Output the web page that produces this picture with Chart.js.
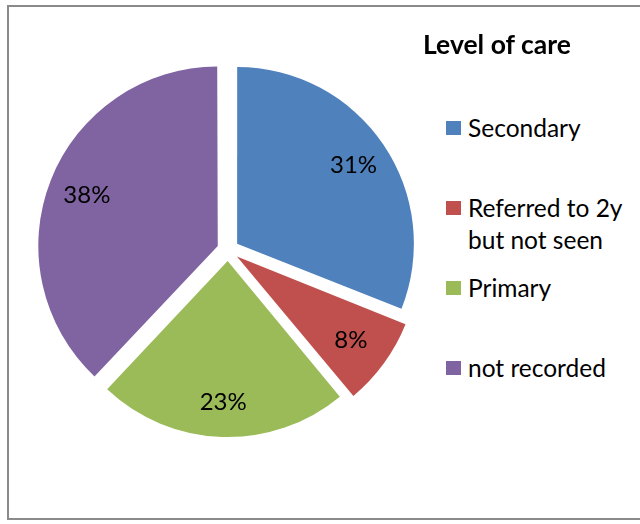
<!DOCTYPE html>
<html>
<head>
<meta charset="utf-8">
<script src="https://cdn.jsdelivr.net/npm/chart.js@4/dist/chart.umd.min.js"></script>
<style>
  html, body { margin: 0; padding: 0; background: #fff; overflow: hidden; }
  body { width: 640px; height: 524px; position: relative; font-family: Lato, "Noto Sans", sans-serif; }
  #frame { position: absolute; left: 7px; top: 5px; width: 660px; height: 515px; border: 2px solid #8a8a8a; box-sizing: border-box; }
  #pieBox { position: absolute; left: 28px; top: 50px; width: 400px; height: 400px; }
  #legendTitle { position: absolute; left: 423px; top: 28px; font-weight: bold; font-size: 26.5px; color: #000; white-space: nowrap; }
  #legend { position: absolute; left: 446px; top: 0; }
  .item { position: absolute; left: 0; white-space: nowrap; font-size: 24.5px; line-height: 32px; color: #000; }
  .item .box { position: absolute; left: 0; top: 9px; width: 15px; height: 14px; }
  .item .txt { position: absolute; left: 22px; top: 0; }
</style>
</head>
<body>
<div id="frame"></div>
<div id="pieBox"><canvas id="levelChart" width="400" height="400"></canvas></div>
<div id="legendTitle">Level of care</div>
<div id="legend"></div>
<script>
var categories = ['Secondary', ['Referred to 2y', 'but not seen'], 'Primary', 'not recorded'];
var values = [31, 8, 23, 38];
var colors = ['#4F81BD', '#C0504D', '#9BBB59', '#8064A2'];
var legendTops = [112, 192, 272, 352];

// percentage labels placed inside each slice
var sliceLabels = {
    id: 'sliceLabels',
    afterDatasetsDraw: function(chart) {
        var ctx = chart.ctx;
        var meta = chart.getDatasetMeta(0);
        var total = values.reduce(function(a, b) { return a + b; }, 0);
        ctx.save();
        ctx.font = '24px Lato, "Noto Sans", sans-serif';
        ctx.fillStyle = '#000';
        ctx.textAlign = 'center';
        ctx.textBaseline = 'alphabetic';
        meta.data.forEach(function(arc, i) {
            var p = arc.getProps(['x', 'y', 'startAngle', 'endAngle', 'outerRadius'], true);
            var mid = (p.startAngle + p.endAngle) / 2;
            var shift = (arc.options.offset || 0) / 4;
            var d = shift + p.outerRadius * 0.8;
            var x = p.x + Math.cos(mid) * d;
            var y = p.y + Math.sin(mid) * d;
            var txt = Math.round(values[i] / total * 100) + '%';
            ctx.fillText(txt, x, y + 8.5);
        });
        ctx.restore();
    }
};

var ctx = document.getElementById('levelChart').getContext('2d');
var levelChart = new Chart(ctx, {
    type: 'pie',
    data: {
        labels: categories,
        datasets: [{
            data: values,
            backgroundColor: colors,
            borderWidth: 0,
            offset: 44,
            hoverOffset: 0
        }]
    },
    options: {
        responsive: false,
        animation: false,
        events: [],
        radius: 176,
        layout: { padding: 0 },
        plugins: {
            legend: { display: false },
            tooltip: { enabled: false }
        }
    },
    plugins: [sliceLabels]
});

// legend built from the same arrays
var legendEl = document.getElementById('legend');
categories.forEach(function(c, i) {
    var item = document.createElement('div');
    item.className = 'item';
    item.style.top = legendTops[i] + 'px';
    var box = document.createElement('div');
    box.className = 'box';
    box.style.background = colors[i];
    var txt = document.createElement('div');
    txt.className = 'txt';
    txt.innerHTML = [].concat(c).join('<br>');
    item.appendChild(box);
    item.appendChild(txt);
    legendEl.appendChild(item);
});
</script>
</body>
</html>
